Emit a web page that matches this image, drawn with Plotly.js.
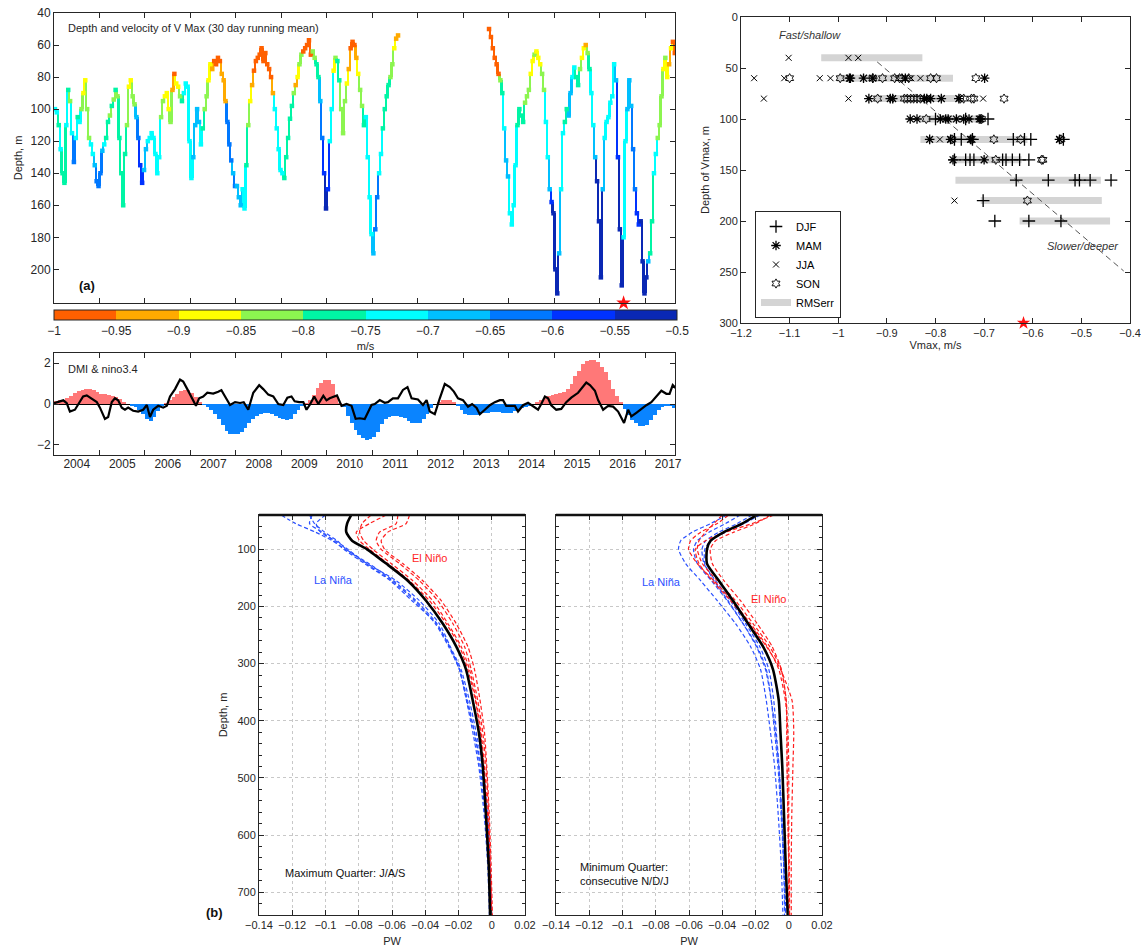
<!DOCTYPE html>
<html><head><meta charset="utf-8">
<script src="https://cdn.plot.ly/plotly-3.0.1.min.js"></script>
<style>html,body{margin:0;padding:0;background:#fff}#chart{width:1141px;height:947px}</style>
</head><body><div id="chart"></div>
<script>
// ===== Panel (a): depth and speed of Vmax, half-month samples from 2004.0 =====
const vmaxStartYear = 2004;
const vmaxDepth2004 = [100,102,110,125,140,146,110,88,95,115,133,118,105,108,100,90,82,100,118,122,128,135,145,148];
const vmaxSpeed2004 = [-0.72,-0.72,-0.77,-0.72,-0.77,-0.77,-0.72,-0.77,-0.82,-0.72,-0.62,-0.72,-0.77,-0.72,-0.82,-0.87,-0.87,-0.82,-0.82,-0.72,-0.72,-0.67,-0.62,-0.62];
const vmaxDepth2005 = [140,126,122,118,108,104,98,94,88,92,118,140,160,128,110,86,82,92,97,105,118,135,146,138];
const vmaxSpeed2005 = [-0.62,-0.67,-0.72,-0.77,-0.77,-0.82,-0.77,-0.82,-0.77,-0.82,-0.77,-0.77,-0.77,-0.77,-0.82,-0.87,-0.87,-0.82,-0.82,-0.67,-0.62,-0.57,-0.57,-0.67];
const vmaxDepth2006 = [125,120,118,115,118,128,140,130,105,95,92,90,100,108,88,78,84,86,92,95,90,84,86,120];
const vmaxSpeed2006 = [-0.67,-0.72,-0.72,-0.72,-0.72,-0.72,-0.72,-0.72,-0.82,-0.82,-0.87,-0.87,-0.87,-0.82,-0.92,-0.97,-0.87,-0.87,-0.82,-0.77,-0.72,-0.72,-0.72,-0.72];
const vmaxDepth2007 = [143,130,110,100,108,122,112,100,92,82,72,75,70,72,68,70,78,82,95,108,122,132,140,148];
const vmaxSpeed2007 = [-0.72,-0.67,-0.67,-0.67,-0.67,-0.72,-0.77,-0.82,-0.82,-0.87,-0.87,-0.92,-0.97,-0.97,-0.97,-0.97,-0.92,-0.92,-0.92,-0.62,-0.62,-0.62,-0.67,-0.62];
const vmaxDepth2008 = [148,155,160,150,162,135,110,95,85,76,70,68,66,62,70,65,72,75,80,90,100,112,125,138];
const vmaxSpeed2008 = [-0.67,-0.67,-0.67,-0.72,-0.72,-0.77,-0.82,-0.87,-0.92,-0.97,-0.97,-0.97,-0.97,-0.97,-0.97,-0.97,-0.97,-0.97,-0.97,-0.92,-0.72,-0.72,-0.72,-0.72];
const vmaxDepth2009 = [140,143,130,118,106,98,90,85,80,72,66,64,62,60,57,66,64,68,72,80,95,118,140,162];
const vmaxSpeed2009 = [-0.72,-0.77,-0.77,-0.77,-0.77,-0.77,-0.82,-0.92,-0.87,-0.82,-0.82,-0.97,-0.97,-0.97,-0.97,-0.97,-0.82,-0.82,-0.77,-0.77,-0.67,-0.62,-0.57,-0.52];
const vmaxDepth2010 = [150,120,100,76,68,70,82,100,115,95,84,75,62,58,60,68,78,88,98,110,105,130,155,178];
const vmaxSpeed2010 = [-0.57,-0.72,-0.72,-0.87,-0.82,-0.77,-0.77,-0.82,-0.82,-0.82,-0.87,-0.92,-0.97,-0.97,-0.97,-0.92,-0.87,-0.82,-0.82,-0.77,-0.72,-0.72,-0.72,-0.72];
const vmaxDepth2011 = [190,175,155,140,128,112,100,92,85,80,72,62,56,54,null,null,null,null,null,null,null,null,null,null];
const vmaxSpeed2011 = [-0.67,-0.62,-0.62,-0.72,-0.72,-0.77,-0.77,-0.77,-0.77,-0.82,-0.82,-0.87,-0.92,-0.92,null,null,null,null,null,null,null,null,null,null];
const vmaxDepth2012 = [null,null,null,null,null,null,null,null,null,null,null,null,null,null,null,null,null,null,null,null,null,null,null,null];
const vmaxSpeed2012 = [null,null,null,null,null,null,null,null,null,null,null,null,null,null,null,null,null,null,null,null,null,null,null,null];
const vmaxDepth2013 = [null,null,null,null,null,null,null,null,null,null,null,null,null,50,55,62,68,72,78,82,90,112,132,142];
const vmaxSpeed2013 = [null,null,null,null,null,null,null,null,null,null,null,null,null,-0.97,-0.97,-0.97,-0.97,-0.97,-0.97,-0.82,-0.77,-0.72,-0.67,-0.67];
const vmaxDepth2014 = [165,172,160,135,110,100,104,108,96,92,88,78,70,66,64,68,72,78,88,108,130,150,158,165];
const vmaxSpeed2014 = [-0.72,-0.72,-0.72,-0.72,-0.77,-0.77,-0.77,-0.77,-0.82,-0.82,-0.82,-0.87,-0.87,-0.82,-0.87,-0.87,-0.87,-0.82,-0.82,-0.72,-0.72,-0.67,-0.57,-0.52];
const vmaxDepth2015 = [200,215,190,150,115,108,100,104,90,80,74,80,85,75,68,62,60,65,75,90,110,130,145,170];
const vmaxSpeed2015 = [-0.52,-0.52,-0.67,-0.72,-0.72,-0.77,-0.77,-0.67,-0.67,-0.72,-0.72,-0.77,-0.77,-0.82,-0.87,-0.87,-0.92,-0.82,-0.77,-0.72,-0.72,-0.67,-0.52,-0.52];
const vmaxDepth2016 = [205,150,118,108,105,96,92,72,82,130,175,210,180,120,100,82,98,125,150,165,172,170,195,215];
const vmaxSpeed2016 = [-0.52,-0.67,-0.72,-0.72,-0.72,-0.72,-0.72,-0.72,-0.67,-0.57,-0.52,-0.52,-0.72,-0.72,-0.67,-0.67,-0.67,-0.62,-0.62,-0.57,-0.57,-0.52,-0.52,-0.52];
const vmaxDepth2017 = [205,195,190,170,140,128,118,110,92,75,68,80,72,62,58,65];
const vmaxSpeed2017 = [-0.52,-0.67,-0.77,-0.77,-0.72,-0.72,-0.82,-0.82,-0.82,-0.87,-0.82,-0.87,-0.92,-0.87,-0.97,-0.97];
const markYearA = [2016.52];
const markDepthA = [221];

// colour bins of the colour bar (m/s), from -1 to -0.5
const speedTicks = [-1,-0.95,-0.9,-0.85,-0.8,-0.75,-0.7,-0.65,-0.6,-0.55,-0.5];
const speedColors = ['#ff6000','#ffaa00','#ffff00','#8cf550','#00f5a5','#00ffff','#00bfff','#0078ff','#0032ff','#0a28b4'];

// ===== DMI & nino3.4 =====
const ninoStartYear = 2004;
const nino2004 = [0.15,0.18,0.22,0.3,0.4,0.52,0.62,0.7,0.74,0.75,0.7,0.6];
const nino2005 = [0.5,0.47,0.45,0.4,0.35,0.25,0.12,0.02,-0.08,-0.15,-0.3,-0.5];
const nino2006 = [-0.75,-0.82,-0.65,-0.35,-0.1,0.05,0.2,0.35,0.5,0.62,0.68,0.68];
const nino2007 = [0.55,0.35,0.1,-0.05,-0.15,-0.3,-0.5,-0.75,-1.05,-1.3,-1.45,-1.48];
const nino2008 = [-1.48,-1.35,-1.2,-0.95,-0.75,-0.6,-0.48,-0.45,-0.45,-0.5,-0.6,-0.7];
const nino2009 = [-0.75,-0.78,-0.72,-0.5,-0.28,-0.1,0.03,0.2,0.45,0.8,1.05,1.18];
const nino2010 = [1.2,1.0,0.45,0.05,-0.15,-0.6,-0.95,-1.25,-1.5,-1.68,-1.75,-1.72];
const nino2011 = [-1.6,-1.35,-1.0,-0.75,-0.62,-0.58,-0.6,-0.62,-0.7,-0.85,-0.92,-0.95];
const nino2012 = [-0.92,-0.75,-0.5,-0.2,-0.02,0.12,0.2,0.22,0.2,0.12,-0.1,-0.3];
const nino2013 = [-0.5,-0.55,-0.56,-0.56,-0.5,-0.45,-0.42,-0.38,-0.37,-0.38,-0.42,-0.42];
const nino2014 = [-0.42,-0.35,-0.28,-0.22,-0.15,-0.08,-0.02,0.1,0.2,0.3,0.38,0.43];
const nino2015 = [0.5,0.55,0.6,0.75,1.0,1.35,1.6,1.95,2.1,2.15,2.17,2.05];
const nino2016 = [1.8,1.55,1.2,0.75,0.4,0.1,-0.25,-0.55,-0.8,-0.95,-1.1,-1.1];
const nino2017 = [-1.05,-0.8,-0.55,-0.3,-0.15,-0.12,-0.1,-0.22];

const dmiYear = [2004.0,2004.095,2004.205,2004.28,2004.35,2004.46,2004.57,2004.64,2004.72,2004.83,2004.94,2005.01,2005.12,2005.19,2005.27,2005.34,2005.41,2005.49,2005.56,2005.63,2005.74,2005.85,2005.96,2006.04,2006.11,2006.18,2006.29,2006.4,2006.48,2006.55,2006.66,2006.77,2006.84,2006.93,2007.02,2007.12,2007.19,2007.28,2007.37,2007.5,2007.61,2007.68,2007.76,2007.87,2007.98,2008.09,2008.17,2008.27,2008.38,2008.51,2008.6,2008.71,2008.82,2008.93,2009.04,2009.13,2009.22,2009.29,2009.39,2009.48,2009.55,2009.62,2009.72,2009.81,2009.92,2009.99,2010.06,2010.14,2010.22,2010.32,2010.43,2010.54,2010.63,2010.72,2010.83,2010.91,2010.98,2011.05,2011.16,2011.27,2011.34,2011.45,2011.56,2011.67,2011.77,2011.86,2012.0,2012.11,2012.19,2012.26,2012.37,2012.48,2012.59,2012.7,2012.79,2012.88,2012.99,2013.1,2013.19,2013.29,2013.36,2013.47,2013.58,2013.69,2013.8,2013.87,2013.94,2014.05,2014.13,2014.2,2014.31,2014.42,2014.53,2014.64,2014.71,2014.79,2014.86,2014.93,2015.04,2015.15,2015.26,2015.37,2015.52,2015.63,2015.7,2015.78,2015.89,2015.96,2016.07,2016.18,2016.29,2016.4,2016.53,2016.62,2016.69,2016.8,2016.91,2017.02,2017.13,2017.24,2017.35,2017.46,2017.53,2017.6,2017.68];
const dmiValue = [0.04,0.1,0.18,0.04,-0.37,-0.28,0.1,0.37,0.42,0.28,0.1,-0.18,-0.73,-0.64,0.1,0.28,0.18,-0.18,-0.28,-0.18,-0.33,-0.37,-0.28,-0.05,-0.64,-0.28,-0.09,-0.18,-0.09,0.37,0.73,1.2,1.1,0.73,0.37,-0.09,0.28,0.37,0.55,0.51,0.6,0.68,0.37,-0.05,0.09,0.05,0.09,-0.28,0.55,0.92,0.73,0.46,0.37,0.0,-0.05,0.31,0.37,0.13,0.09,0.09,-0.28,-0.05,0.37,0.0,0.4,0.18,0.28,0.37,0.42,-0.09,0.0,-0.09,-0.73,-0.7,-0.74,-0.37,-0.05,0.0,0.19,0.06,0.09,0.28,0.28,0.69,0.83,0.28,0.22,-0.05,0.19,-0.37,-0.5,0.28,0.98,0.83,0.61,0.28,0.19,-0.13,0.0,-0.19,-0.5,-0.28,-0.06,0.09,0.19,0.19,-0.09,-0.09,-0.09,-0.37,-0.06,0.06,-0.09,-0.28,0.0,0.37,0.28,-0.06,-0.28,-0.24,0.09,0.31,0.55,0.83,1.05,0.93,0.65,0.19,-0.28,-0.09,-0.13,-0.37,-0.93,-0.28,-0.61,-0.43,-0.24,-0.06,0.09,0.37,0.65,0.5,0.5,0.93,0.74];

// ===== Right panel: depth of Vmax vs Vmax by season =====
const djfSpeed = [-0.8,-0.738,-0.692,-0.761,-0.747,-0.724,-0.64,-0.617,-0.604,-0.537,-0.761,-0.738,-0.729,-0.721,-0.662,-0.655,-0.642,-0.627,-0.608,-0.634,-0.568,-0.513,-0.504,-0.482,-0.439,-0.702,-0.678,-0.608,-0.542];
const djfDepth = [100,100,100,120,120,120,120,120,120,120,140,140,140,140,140,140,140,140,140,160,160,160,160,160,160,180,200,200,200];
const mamSpeed = [-0.977,-0.975,-0.948,-0.929,-0.862,-0.699,-0.937,-0.893,-0.888,-0.823,-0.818,-0.81,-0.788,-0.752,-0.852,-0.838,-0.79,-0.779,-0.774,-0.757,-0.742,-0.731,-0.71,-0.707,-0.812,-0.769,-0.728,-0.725,-0.545,-0.764,-0.7];
const mamDepth = [60,60,60,60,60,60,80,80,80,80,80,80,80,80,100,100,100,100,100,100,100,100,100,100,120,120,120,120,120,140,140];
const jjaSpeed = [-1.102,-0.979,-0.959,-1.173,-1.111,-1.038,-1.016,-0.85,-0.831,-1.153,-0.979,-0.702,-0.791,-0.761];
const jjaDepth = [40,40,40,60,60,60,60,60,60,80,80,80,120,180];
const sonSpeed = [-1.1,-0.996,-0.929,-0.909,-0.884,-0.874,-0.869,-0.855,-0.81,-0.798,-0.717,-0.919,-0.864,-0.858,-0.851,-0.845,-0.838,-0.831,-0.749,-0.742,-0.726,-0.721,-0.659,-0.819,-0.705,-0.766,-0.68,-0.625,-0.542,-0.676,-0.582,-0.579,-0.611];
const sonDepth = [60,60,60,60,60,60,60,60,60,60,60,80,80,80,80,80,80,80,80,80,80,80,80,100,100,120,120,120,120,140,140,140,180];
const rmsDepth = [40,60,80,100,120,140,160,180,200];
const rmsLow = [-1.035,-1.003,-0.929,-0.834,-0.831,-0.768,-0.759,-0.707,-0.627];
const rmsHigh = [-0.827,-0.764,-0.759,-0.7,-0.611,-0.623,-0.46,-0.458,-0.441];
const trendSpeed = [-0.92,-0.413];
const trendDepth = [44,249];
const markSpeedR = [-0.619];
const markDepthR = [300];

// ===== Panel (b): PW profiles =====
const pwDepth = [40,55,70,85,100,125,155,190,230,270,310,365,420,480,570,655,740];
const maxMean  = [-0.0845,-0.087,-0.0875,-0.084,-0.075,-0.0635,-0.0505,-0.0395,-0.0295,-0.0214,-0.0155,-0.0114,-0.0078,-0.0054,-0.0034,-0.0018,-0.001];
const maxNina1 = [-0.1266,-0.118,-0.106,-0.096,-0.088,-0.074,-0.059,-0.0455,-0.033,-0.0255,-0.0195,-0.0152,-0.0114,-0.0078,-0.0044,-0.0024,-0.0014];
const maxNina2 = [-0.1096,-0.1066,-0.1005,-0.093,-0.0875,-0.075,-0.0575,-0.0435,-0.0315,-0.025,-0.0185,-0.0134,-0.0094,-0.0054,-0.0024,-0.001,-0.0004];
const maxNina3 = [-0.1,-0.1056,-0.103,-0.094,-0.0865,-0.0755,-0.06,-0.0465,-0.034,-0.026,-0.0195,-0.015,-0.0104,-0.0064,-0.003,-0.0014,-0.0004];
const maxNina4 = [-0.108,-0.1096,-0.102,-0.095,-0.089,-0.0765,-0.061,-0.048,-0.0334,-0.0254,-0.0194,-0.0145,-0.0105,-0.007,-0.0038,-0.0016,0];
const maxNino1 = [-0.0725,-0.078,-0.0795,-0.077,-0.0715,-0.0605,-0.0475,-0.0355,-0.0264,-0.0184,-0.0134,-0.0094,-0.0064,-0.0044,-0.0024,-0.001,-0.0002];
const maxNino2 = [-0.0565,-0.0575,-0.0675,-0.0695,-0.0665,-0.0555,-0.0435,-0.0324,-0.0234,-0.0164,-0.0124,-0.0084,-0.0054,-0.0034,-0.0018,-0.0008,0];
const maxNino3 = [-0.0495,-0.0515,-0.0625,-0.0665,-0.0645,-0.0535,-0.0415,-0.0304,-0.0214,-0.0144,-0.0104,-0.007,-0.0044,-0.003,-0.0014,-0.0004,0.0004];
const maxNino4 = [-0.0635,-0.0735,-0.0815,-0.0795,-0.0735,-0.0625,-0.0495,-0.0375,-0.0274,-0.0194,-0.0144,-0.0098,-0.0068,-0.0048,-0.003,-0.0014,-0.0004];
const minMean  = [-0.0191,-0.028,-0.039,-0.047,-0.0492,-0.0492,-0.042,-0.0335,-0.0245,-0.0155,-0.0095,-0.006,-0.005,-0.0039,-0.0028,-0.0018,-0.0006];
const minNina1 = [-0.0372,-0.047,-0.058,-0.065,-0.0663,-0.062,-0.053,-0.043,-0.032,-0.023,-0.017,-0.0135,-0.011,-0.0085,-0.0062,-0.0045,-0.0035];
const minNina2 = [-0.0291,-0.038,-0.048,-0.055,-0.0573,-0.055,-0.0465,-0.037,-0.0275,-0.019,-0.0135,-0.0105,-0.0085,-0.0065,-0.0045,-0.003,-0.002];
const minNina3 = [-0.022,-0.031,-0.042,-0.05,-0.0522,-0.051,-0.044,-0.035,-0.026,-0.0175,-0.012,-0.009,-0.0075,-0.0058,-0.004,-0.0028,-0.0018];
const minNina4 = [-0.0171,-0.027,-0.038,-0.047,-0.0505,-0.0505,-0.045,-0.0365,-0.0275,-0.0195,-0.014,-0.0105,-0.008,-0.006,-0.0042,-0.003,-0.0025];
const minNino1 = [-0.0362,-0.043,-0.053,-0.059,-0.0603,-0.055,-0.045,-0.034,-0.023,-0.013,-0.006,-0.002,-0.0005,0,0,0.0003,0.0005];
const minNino2 = [-0.011,-0.02,-0.033,-0.044,-0.0472,-0.046,-0.039,-0.029,-0.019,-0.01,-0.0045,-0.0015,-0.001,-0.001,-0.0005,0,0.0003];
const minNino3 = [-0.009,-0.022,-0.038,-0.05,-0.0562,-0.054,-0.046,-0.035,-0.024,-0.0135,-0.005,0.002,0.003,0.0025,0.0018,0.0015,0.0015];
const minNino4 = [-0.04,-0.045,-0.05,-0.054,-0.055,-0.052,-0.043,-0.032,-0.0215,-0.0115,-0.0045,-0.0015,-0.0012,-0.001,-0.0005,0,0];

const yearLabels = ['2004','2005','2006','2007','2008','2009','2010','2011','2012','2013','2014','2015','2016','2017'];

// ===== build =====
const FONT = 'Liberation Sans, Arial, Helvetica, sans-serif';
const AX = '#262626';
const W = 1141, H = 947;
const px = v => v / W, py = v => 1 - v / H;

const vmaxDepth = [].concat(vmaxDepth2004,vmaxDepth2005,vmaxDepth2006,vmaxDepth2007,vmaxDepth2008,vmaxDepth2009,vmaxDepth2010,vmaxDepth2011,vmaxDepth2012,vmaxDepth2013,vmaxDepth2014,vmaxDepth2015,vmaxDepth2016,vmaxDepth2017);
const vmaxSpeed = [].concat(vmaxSpeed2004,vmaxSpeed2005,vmaxSpeed2006,vmaxSpeed2007,vmaxSpeed2008,vmaxSpeed2009,vmaxSpeed2010,vmaxSpeed2011,vmaxSpeed2012,vmaxSpeed2013,vmaxSpeed2014,vmaxSpeed2015,vmaxSpeed2016,vmaxSpeed2017);
const nino = [].concat(nino2004,nino2005,nino2006,nino2007,nino2008,nino2009,nino2010,nino2011,nino2012,nino2013,nino2014,nino2015,nino2016,nino2017);
const STEP = 1 / 24;
const vmaxYear = vmaxDepth.map((_, i) => vmaxStartYear + (i + 0.5) * STEP);

// vertical links between successive samples (drawn as thin bars, coloured by the sample's speed)
const linkX = [], linkBase = [], linkLen = [], linkCol = [];
for (let i = 0; i < vmaxDepth.length - 1; i++) {
  const a = vmaxDepth[i], b = vmaxDepth[i + 1];
  if (a == null || b == null) continue;
  linkX.push(vmaxYear[i] + STEP / 2);
  linkBase.push(Math.min(a, b));
  linkLen.push(Math.abs(b - a));
  linkCol.push(b > a ? vmaxSpeed[i + 1] : vmaxSpeed[i]);
}

const cscale = [];
speedColors.forEach((c, i) => { cscale.push([i / speedColors.length, c]); cscale.push([(i + 1) / speedColors.length, c]); });

const traces = [];
traces.push({ type: 'bar', xaxis: 'x', yaxis: 'y', x: linkX, base: linkBase, y: linkLen, width: STEP * 1.2,
  marker: { color: linkCol, colorscale: cscale, cmin: -1, cmax: -0.5, line: { width: 0 } }, showlegend: false, hoverinfo: 'skip' });
traces.push({
  type: 'scatter', mode: 'markers', xaxis: 'x', yaxis: 'y',
  x: vmaxYear, y: vmaxDepth,
  marker: { symbol: 'square', size: 4.5, color: vmaxSpeed, colorscale: cscale, cmin: -1, cmax: -0.5,
    showscale: true,
    colorbar: { orientation: 'h', x: px(54), xanchor: 'left', y: py(310), yanchor: 'top', len: 623 / W, lenmode: 'fraction',
      thickness: 10, thicknessmode: 'pixels', outlinewidth: 1, outlinecolor: AX, xpad: 0, ypad: 0,
      tickvals: speedTicks, ticks: '', tickfont: { size: 12, color: AX, family: FONT },
      title: { text: 'm/s', side: 'bottom', font: { size: 11, color: AX, family: FONT } } } },
  showlegend: false, hoverinfo: 'x+y'
});
traces.push({ type: 'scatter', mode: 'markers', xaxis: 'x', yaxis: 'y', x: markYearA, y: markDepthA,
  marker: { symbol: 'star', size: 11, color: '#ff1010' }, cliponaxis: false, showlegend: false });

traces.push({ type: 'bar', xaxis: 'x2', yaxis: 'y2', x0: ninoStartYear + 1/24, dx: 1/12, y: nino,
  width: 1/12, marker: { color: nino.map(v => v >= 0 ? '#ff7878' : '#0a84ff'), line: { width: 0 } }, showlegend: false });
traces.push({ type: 'scatter', mode: 'lines', xaxis: 'x7', yaxis: 'y2', x: dmiYear, y: dmiValue,
  line: { color: '#000', width: 2.2 }, showlegend: false });

// right panel
const rx = [], ry = [];
rmsDepth.forEach((d, i) => { rx.push(rmsLow[i], rmsHigh[i], null); ry.push(d, d, null); });
traces.push({ type: 'scatter', mode: 'lines', xaxis: 'x3', yaxis: 'y3', x: rx, y: ry, name: 'RMSerr',
  line: { color: '#d4d4d4', width: 7 }, legendrank: 5 });
traces.push({ type: 'scatter', mode: 'lines', xaxis: 'x3', yaxis: 'y3', x: trendSpeed, y: trendDepth,
  line: { color: '#555', width: 1, dash: '6px,4px' }, showlegend: false });
traces.push({ type: 'scatter', mode: 'markers', xaxis: 'x3', yaxis: 'y3', x: djfSpeed, y: djfDepth, name: 'DJF',
  marker: { symbol: 'cross-thin-open', size: 9, color: '#000', line: { color: '#000', width: 1.3 } }, legendrank: 1 });
traces.push({ type: 'scatter', mode: 'markers', xaxis: 'x3', yaxis: 'y3', x: mamSpeed, y: mamDepth, name: 'MAM',
  marker: { symbol: 'asterisk-open', size: 8, color: '#000', line: { color: '#000', width: 1.3 } }, legendrank: 2 });
traces.push({ type: 'scatter', mode: 'markers', xaxis: 'x3', yaxis: 'y3', x: jjaSpeed, y: jjaDepth, name: 'JJA',
  marker: { symbol: 'x-thin-open', size: 6, color: '#000', line: { color: '#000', width: 1 } }, legendrank: 3 });
traces.push({ type: 'scatter', mode: 'markers', xaxis: 'x3', yaxis: 'y3', x: sonSpeed, y: sonDepth, name: 'SON',
  marker: { symbol: 'hexagram-open', size: 7, color: '#000', line: { color: '#000', width: 0.9 } }, legendrank: 4 });
traces.push({ type: 'scatter', mode: 'markers', xaxis: 'x3', yaxis: 'y3', x: markSpeedR, y: markDepthR,
  marker: { symbol: 'star', size: 10, color: '#ff1010' }, cliponaxis: false, showlegend: false });

// profiles
function prof(xa, ya, arr, color, width, dash) {
  traces.push({ type: 'scatter', mode: 'lines', xaxis: xa, yaxis: ya, x: arr, y: pwDepth,
    line: { color: color, width: width, dash: dash, shape: 'spline', smoothing: 0.6 }, showlegend: false });
}
const RED = '#ff1e1e', BLUE = '#2a50ff', DASH = '4px,2.5px';
[maxNina1, maxNina2, maxNina3, maxNina4].forEach(a => prof('x4', 'y4', a, BLUE, 1.2, DASH));
[maxNino1, maxNino2, maxNino3, maxNino4].forEach(a => prof('x4', 'y4', a, RED, 1.2, DASH));
prof('x4', 'y4', maxMean, '#000', 2.6, 'solid');
[minNina1, minNina2, minNina3, minNina4].forEach(a => prof('x5', 'y5', a, BLUE, 1.2, DASH));
[minNino1, minNino2, minNino3, minNino4].forEach(a => prof('x5', 'y5', a, RED, 1.2, DASH));
prof('x5', 'y5', minMean, '#000', 2.6, 'solid');

const baseAx = { showline: true, linecolor: AX, linewidth: 1, mirror: 'ticks', ticks: 'inside', ticklen: 5,
  tickcolor: AX, showgrid: false, zeroline: false, tickfont: { size: 12, color: AX, family: FONT } };
const tt = (t, s, so) => { const o = { text: t, font: { size: s || 11, color: AX, family: FONT } }; if (so != null) o.standoff = so; return o; };

const xDomA = [px(54), px(675)];
const layout = {
  width: W, height: H, margin: { l: 0, r: 0, t: 0, b: 0 },
  paper_bgcolor: '#fff', plot_bgcolor: '#fff',
  font: { family: FONT, size: 11, color: AX },
  bargap: 0, barmode: 'overlay', showlegend: true,
  legend: { x: px(755), xanchor: 'left', y: py(318), yanchor: 'bottom', bgcolor: '#fff', bordercolor: AX, borderwidth: 1,
    font: { size: 11, color: '#000', family: FONT }, tracegroupgap: 0, itemwidth: 30 },
  xaxis: Object.assign({}, baseAx, { domain: xDomA, anchor: 'y', range: [2004, 2017.65], tick0: 2004, dtick: 1, showticklabels: false }),
  yaxis: Object.assign({}, baseAx, { domain: [py(303), py(13)], anchor: 'x', range: [221, 40],
    tickvals: [40,60,80,100,120,140,160,180,200], title: tt('Depth, m') }),
  xaxis2: Object.assign({}, baseAx, { domain: xDomA, anchor: 'y2', range: [2004, 2017.65], tick0: 2004, dtick: 1, showticklabels: false }),
  xaxis7: { overlaying: 'x2', anchor: 'y2', side: 'bottom', range: [2004, 2017.65], showline: false, showgrid: false, zeroline: false,
    ticks: '', tickvals: yearLabels.map(s => +s + 0.5), ticktext: yearLabels, tickfont: { size: 12, color: AX, family: FONT } },
  yaxis2: Object.assign({}, baseAx, { domain: [py(455), py(353)], anchor: 'x2', range: [-2.5, 2.5], tickvals: [-2, 0, 2],
    zeroline: true, zerolinecolor: '#000', zerolinewidth: 1 }),
  xaxis3: Object.assign({}, baseAx, { domain: [px(741), px(1130)], anchor: 'y3', range: [-1.2, -0.4], dtick: 0.1, tick0: -1.2,
    title: tt('Vmax, m/s', 11, 2), tickfont: { size: 11, color: AX, family: FONT } }),
  yaxis3: Object.assign({}, baseAx, { domain: [py(323), py(17)], anchor: 'x3', range: [300, 0], dtick: 50, tick0: 0,
    title: tt('Depth of Vmax, m'), tickfont: { size: 11, color: AX, family: FONT } }),
  xaxis4: Object.assign({}, baseAx, { domain: [px(259), px(525)], anchor: 'y4', range: [-0.14, 0.02], dtick: 0.02, tick0: -0.14,
    showgrid: true, gridcolor: '#c8c8c8', griddash: 'dot', gridwidth: 1, title: tt('PW'), tickfont: { size: 11, color: AX, family: FONT } }),
  yaxis4: Object.assign({}, baseAx, { domain: [py(915), py(515)], anchor: 'x4', range: [740, 40], tickvals: [100,200,300,400,500,600,700],
    showgrid: true, gridcolor: '#c8c8c8', griddash: 'dot', gridwidth: 1, title: tt('Depth, m'),
    minor: { dtick: 20, tick0: 0, ticks: 'inside', ticklen: 3, tickcolor: AX, showgrid: false },
    tickfont: { size: 11, color: AX, family: FONT } }),
  xaxis5: Object.assign({}, baseAx, { domain: [px(556), px(822)], anchor: 'y5', range: [-0.14, 0.02], dtick: 0.02, tick0: -0.14,
    showgrid: true, gridcolor: '#c8c8c8', griddash: 'dot', gridwidth: 1, title: tt('PW'), tickfont: { size: 11, color: AX, family: FONT } }),
  yaxis5: Object.assign({}, baseAx, { domain: [py(915), py(515)], anchor: 'x5', range: [740, 40], tickvals: [100,200,300,400,500,600,700],
    showticklabels: false, showgrid: true, gridcolor: '#c8c8c8', griddash: 'dot', gridwidth: 1,
    minor: { dtick: 20, tick0: 0, ticks: 'inside', ticklen: 3, tickcolor: AX, showgrid: false } }),
  shapes: [
    { type: 'line', xref: 'x4 domain', yref: 'y4 domain', x0: 0, x1: 1, y0: 1, y1: 1, line: { color: '#111', width: 2.5 } },
    { type: 'line', xref: 'x5 domain', yref: 'y5 domain', x0: 0, x1: 1, y0: 1, y1: 1, line: { color: '#111', width: 2.5 } }
  ],
  annotations: [
    { xref: 'paper', yref: 'paper', x: px(66), y: py(28), xanchor: 'left', yanchor: 'middle', showarrow: false,
      text: 'Depth and velocity of V Max (30 day running mean)', font: { size: 11, color: AX } },
    { xref: 'paper', yref: 'paper', x: px(77), y: py(286), xanchor: 'left', yanchor: 'middle', showarrow: false,
      text: '<b>(a)</b>', font: { size: 13, color: '#111' } },
    { xref: 'paper', yref: 'paper', x: px(66), y: py(369), xanchor: 'left', yanchor: 'middle', showarrow: false,
      text: 'DMI &amp; nino3.4', font: { size: 11, color: AX } },
    { xref: 'paper', yref: 'paper', x: px(777), y: py(35), xanchor: 'left', yanchor: 'middle', showarrow: false,
      text: '<i>Fast/shallow</i>', font: { size: 11, color: '#333' } },
    { xref: 'paper', yref: 'paper', x: px(1045), y: py(246), xanchor: 'left', yanchor: 'middle', showarrow: false,
      text: '<i>Slower/deeper</i>', font: { size: 11, color: '#333' } },
    { xref: 'paper', yref: 'paper', x: px(204), y: py(912), xanchor: 'left', yanchor: 'middle', showarrow: false,
      text: '<b>(b)</b>', font: { size: 13, color: '#111' } },
    { xref: 'paper', yref: 'paper', x: px(429), y: py(558), xanchor: 'center', yanchor: 'middle', showarrow: false,
      text: 'El Niño', font: { size: 11, color: RED } },
    { xref: 'paper', yref: 'paper', x: px(333), y: py(580), xanchor: 'center', yanchor: 'middle', showarrow: false,
      text: 'La Niña', font: { size: 11, color: BLUE } },
    { xref: 'paper', yref: 'paper', x: px(662), y: py(582), xanchor: 'center', yanchor: 'middle', showarrow: false,
      text: 'La Niña', font: { size: 11, color: BLUE } },
    { xref: 'paper', yref: 'paper', x: px(768), y: py(599), xanchor: 'center', yanchor: 'middle', showarrow: false,
      text: 'El Niño', font: { size: 11, color: RED } },
    { xref: 'paper', yref: 'paper', x: px(283), y: py(873), xanchor: 'left', yanchor: 'middle', showarrow: false,
      text: 'Maximum Quarter: J/A/S', font: { size: 11, color: '#111' } },
    { xref: 'paper', yref: 'paper', x: px(578), y: py(874), xanchor: 'left', yanchor: 'middle', showarrow: false, align: 'left',
      text: 'Minimum Quarter:<br>consecutive N/D/J', font: { size: 11, color: '#111' } }
  ]
};

Plotly.newPlot('chart', traces, layout, { displayModeBar: false, staticPlot: true });
</script></body></html>
